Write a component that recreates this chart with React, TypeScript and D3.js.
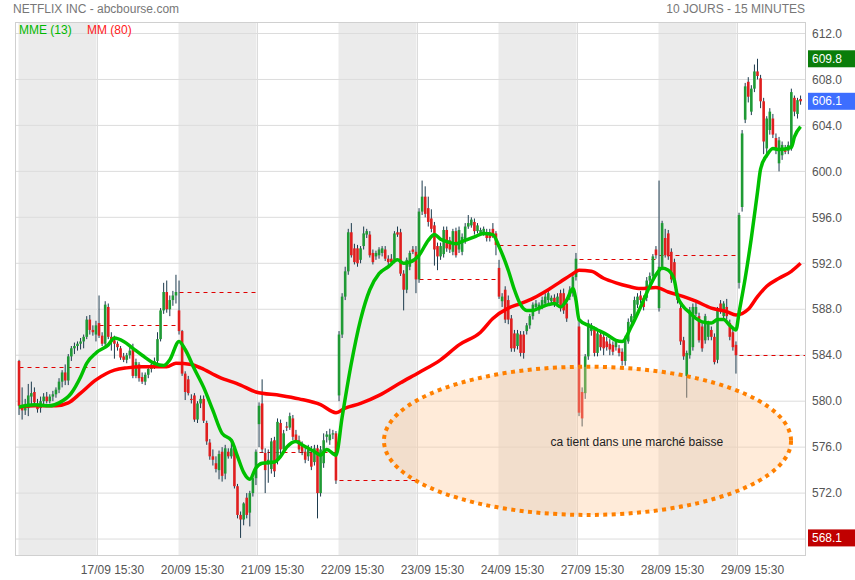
import React from "react";
import * as d3 from "d3";

const W = 855;
const H = 580;

const titleText = "NETFLIX INC - abcbourse.com";
const periodText = "10 JOURS - 15 MINUTES";
const legendEma = "MME (13)";
const legendSma = "MM (80)";
const dateLabels = ["17/09 15:30", "20/09 15:30", "21/09 15:30", "22/09 15:30", "23/09 15:30", "24/09 15:30", "27/09 15:30", "28/09 15:30", "29/09 15:30"];
const yTicks = [572, 576, 580, 584, 588, 592, 596, 600, 604, 608, 612];
const gridValues = [568, 572, 576, 580, 584, 588, 592, 596, 600, 604, 608, 612];
const barsPerDay = 26;
const closeBeforeFirstDay = 583.0;
const highValue = 609.8;
const lastValue = 606.1;
const lowValue = 568.1;

// [open, high, low, close]
const day0 = [
  [583.5, 583.6, 578.8, 579.6], [579.6, 581.2, 578.4, 579.2], [579.2, 580.2, 578.8, 579.4], [579.4, 581.5, 578.7, 580.5],
  [580.4, 581.7, 579.7, 580.7], [580.8, 581.2, 579.7, 579.9], [579.8, 580.2, 579.0, 579.3], [579.4, 580.4, 579.0, 580.0],
  [580.0, 580.7, 579.5, 580.4], [580.4, 580.8, 579.8, 580.0], [580.0, 580.6, 579.8, 580.4], [580.4, 580.9, 580.0, 580.6],
  [580.6, 581.2, 580.3, 581.0], [581.0, 582.0, 580.7, 581.7], [581.7, 582.7, 581.2, 582.5], [582.5, 583.2, 581.4, 581.8],
  [581.8, 584.1, 581.4, 583.9], [583.9, 584.8, 583.5, 584.6], [584.6, 585.1, 584.1, 584.8], [584.8, 585.2, 584.4, 585.0],
  [585.0, 585.5, 584.5, 585.2], [585.2, 585.8, 584.6, 585.6], [585.6, 587.4, 585.4, 587.1], [587.1, 587.5, 585.8, 586.2],
  [586.2, 586.6, 585.7, 586.0], [585.8, 587.0, 585.2, 586.6],
];
const day1 = [
  [586.8, 589.2, 585.5, 585.7], [585.7, 586.0, 584.8, 585.0], [585.0, 588.7, 584.8, 588.4], [588.2, 588.5, 585.4, 585.6],
  [585.6, 586.0, 584.4, 585.3], [585.3, 585.7, 583.7, 585.0], [585.0, 585.2, 584.4, 584.7], [584.6, 584.8, 583.6, 583.8],
  [583.9, 584.2, 583.4, 583.6], [583.6, 584.2, 583.3, 584.0], [584.0, 584.7, 583.7, 584.4], [584.5, 585.0, 582.0, 582.2],
  [582.2, 583.7, 582.0, 583.4], [583.2, 583.4, 581.7, 582.0], [582.1, 582.5, 581.5, 581.7], [581.7, 582.5, 581.4, 582.3],
  [582.3, 583.0, 582.0, 582.8], [582.8, 583.4, 582.5, 583.2], [583.2, 583.8, 582.8, 583.5], [583.5, 586.0, 583.2, 585.4],
  [585.4, 588.1, 585.2, 587.9], [587.9, 590.3, 587.6, 589.5], [589.5, 590.5, 587.7, 588.0], [588.0, 589.2, 587.4, 588.8],
  [588.8, 589.6, 588.3, 589.2], [589.2, 591.0, 588.5, 589.5],
];
const day2 = [
  [587.9, 590.5, 585.8, 586.1], [586.1, 586.2, 582.2, 582.4], [582.4, 582.6, 580.1, 580.8], [581.9, 582.2, 580.5, 580.7],
  [580.2, 580.6, 579.8, 580.1], [580.5, 580.7, 578.2, 578.4], [578.4, 580.0, 578.1, 579.8], [579.8, 580.5, 579.4, 580.2],
  [580.2, 580.5, 578.1, 578.3], [578.1, 578.3, 576.2, 576.5], [576.4, 576.7, 574.9, 575.2], [575.2, 575.8, 574.4, 574.9],
  [574.6, 575.2, 573.8, 574.1], [574.0, 575.7, 573.2, 575.4], [575.6, 576.0, 573.0, 573.5], [573.7, 576.2, 573.2, 575.9],
  [575.6, 575.9, 575.0, 575.2], [575.2, 576.5, 575.0, 575.9], [575.9, 576.2, 572.4, 572.6], [572.6, 572.8, 569.8, 570.1],
  [570.1, 570.4, 568.1, 569.7], [569.7, 571.2, 569.2, 571.1], [571.6, 572.0, 569.8, 570.1], [570.3, 572.2, 569.1, 572.0],
  [572.0, 573.7, 571.7, 573.3], [573.3, 575.8, 572.7, 575.6],
];
const day3 = [
  [578.0, 579.9, 576.0, 579.6], [579.8, 581.9, 575.5, 575.8], [575.5, 575.9, 572.0, 574.0], [574.5, 575.8, 572.9, 574.9],
  [574.1, 576.8, 573.7, 576.5], [576.6, 576.9, 573.4, 573.9], [574.9, 578.5, 574.5, 578.2], [578.1, 578.4, 575.4, 575.8],
  [575.8, 577.5, 575.5, 577.2], [577.8, 578.2, 577.4, 577.7], [577.7, 579.0, 577.5, 578.7], [578.5, 578.8, 576.6, 576.9],
  [577.1, 577.5, 576.4, 576.6], [576.6, 577.0, 575.5, 575.8], [576.1, 576.5, 575.3, 575.6], [575.6, 576.0, 574.6, 574.9],
  [575.2, 576.2, 574.8, 575.8], [575.5, 576.1, 574.0, 574.3], [574.7, 576.2, 574.4, 575.9], [575.9, 576.2, 569.8, 572.0],
  [572.0, 576.1, 571.7, 575.8], [574.6, 577.2, 574.2, 576.6], [576.9, 577.4, 576.4, 577.1], [576.6, 577.6, 576.2, 577.1],
  [577.1, 577.5, 576.7, 577.2], [577.2, 577.4, 572.8, 573.1],
];
const day4 = [
  [580.5, 586.1, 580.0, 585.8], [585.8, 589.4, 585.5, 589.1], [589.1, 591.7, 588.8, 591.3], [591.3, 595.0, 591.0, 594.7],
  [594.7, 595.5, 592.5, 592.7], [593.3, 593.7, 591.9, 592.1], [593.3, 593.6, 591.7, 592.0], [592.3, 593.5, 592.0, 593.3],
  [593.5, 595.2, 593.2, 594.6], [594.5, 595.0, 594.2, 594.8], [594.5, 594.8, 592.5, 592.7], [592.9, 593.2, 591.9, 592.1],
  [592.6, 593.1, 592.3, 592.9], [592.7, 593.4, 592.4, 593.2], [592.9, 593.5, 592.6, 593.3], [593.2, 593.5, 592.2, 592.4],
  [592.4, 592.7, 591.8, 592.1], [592.4, 592.8, 591.8, 592.1], [592.3, 594.8, 592.0, 594.6], [594.7, 595.2, 594.3, 594.5],
  [594.7, 595.0, 590.9, 591.1], [591.1, 591.4, 587.9, 589.7], [589.7, 592.5, 589.4, 592.3], [591.7, 593.1, 591.4, 592.9],
  [593.2, 593.5, 592.8, 593.0], [593.0, 593.5, 589.4, 590.6],
];
const day5 = [
  [590.6, 596.8, 590.3, 596.5], [596.5, 599.2, 596.2, 597.8], [597.8, 598.7, 596.0, 596.3], [596.8, 597.8, 595.2, 595.6],
  [595.9, 596.7, 594.7, 595.0], [595.3, 595.6, 591.8, 593.2], [593.5, 593.8, 591.4, 592.6], [592.6, 593.8, 592.3, 593.5],
  [592.8, 595.2, 592.5, 594.9], [594.9, 595.2, 593.0, 593.3], [594.0, 594.3, 592.9, 593.2], [593.0, 595.0, 592.7, 594.8],
  [594.8, 595.1, 592.5, 592.7], [593.2, 595.2, 592.9, 594.9], [593.0, 594.6, 592.7, 594.3], [594.0, 595.5, 593.7, 595.2],
  [595.2, 596.2, 595.0, 595.5], [595.3, 596.0, 595.1, 595.8], [595.6, 595.9, 594.5, 594.8], [594.8, 595.5, 594.6, 595.3],
  [594.6, 595.1, 594.4, 594.9], [594.6, 595.2, 594.4, 595.0], [594.7, 595.0, 593.9, 594.2], [594.7, 595.0, 593.9, 594.2],
  [595.0, 595.5, 594.2, 594.3], [594.6, 594.8, 592.7, 593.6],
];
const day6 = [
  [591.6, 592.3, 588.9, 589.1], [588.7, 589.4, 588.2, 589.1], [589.7, 590.0, 586.8, 587.1], [588.8, 589.2, 586.7, 587.1],
  [587.2, 587.5, 584.3, 584.6], [585.9, 586.2, 584.3, 584.6], [584.8, 586.2, 584.5, 585.9], [585.8, 586.1, 583.9, 584.2],
  [585.8, 586.1, 583.7, 584.2], [586.1, 586.8, 585.8, 586.6], [586.6, 587.6, 586.3, 587.4], [587.4, 588.6, 587.1, 588.4],
  [588.2, 588.8, 588.0, 588.5], [587.9, 588.6, 587.6, 588.4], [588.2, 589.1, 588.0, 588.8], [588.5, 589.4, 588.3, 589.1],
  [588.8, 589.7, 588.5, 589.4], [588.7, 589.2, 588.4, 589.0], [589.0, 589.3, 588.2, 588.4], [588.5, 589.4, 588.2, 589.1],
  [589.4, 589.7, 587.8, 588.1], [589.4, 589.8, 587.6, 587.9], [588.5, 588.8, 586.9, 587.2], [589.1, 590.0, 588.8, 589.7],
  [589.4, 591.1, 589.1, 590.8], [590.8, 592.9, 590.5, 592.4],
];
const day7 = [
  [586.5, 587.2, 578.7, 579.0], [580.8, 581.2, 577.8, 578.5], [580.7, 584.1, 580.2, 583.9], [583.9, 587.1, 583.6, 586.8],
  [586.1, 586.8, 585.7, 586.6], [586.2, 586.5, 583.9, 584.2], [584.2, 586.2, 583.9, 585.9], [585.8, 586.1, 584.4, 584.7],
  [585.6, 585.9, 584.0, 584.6], [585.2, 585.6, 584.4, 584.7], [585.0, 585.4, 584.0, 584.5], [584.9, 585.2, 584.0, 584.3],
  [584.7, 585.4, 584.4, 585.2], [584.6, 584.9, 583.9, 584.2], [584.3, 584.6, 583.1, 583.5], [583.5, 585.7, 583.1, 585.3],
  [585.2, 587.2, 585.0, 586.9], [586.9, 587.6, 586.6, 587.4], [587.2, 589.1, 586.8, 588.8], [588.4, 589.4, 588.1, 589.1],
  [589.2, 589.6, 588.5, 588.8], [589.0, 589.2, 587.9, 588.2], [589.0, 590.8, 588.7, 590.5], [590.5, 591.2, 590.1, 590.9],
  [590.9, 592.8, 590.6, 592.6], [593.2, 593.5, 592.4, 592.7],
];
const day8 = [
  [588.1, 599.2, 587.8, 591.7], [591.7, 595.7, 591.4, 595.5], [594.2, 595.0, 592.5, 592.7], [594.6, 594.9, 592.3, 592.6],
  [593.0, 593.3, 590.3, 590.6], [592.1, 592.4, 590.3, 590.6], [589.4, 589.7, 588.5, 588.8], [588.1, 588.4, 584.9, 585.2],
  [585.3, 585.6, 583.6, 583.9], [582.2, 584.4, 580.3, 584.2], [584.0, 588.2, 583.7, 587.9], [584.7, 588.5, 584.4, 588.2],
  [587.6, 588.6, 587.4, 588.2], [587.4, 587.7, 585.1, 585.3], [586.5, 586.8, 584.3, 584.6], [585.3, 587.6, 585.0, 587.4],
  [585.6, 587.0, 585.3, 586.8], [586.2, 586.5, 585.3, 585.6], [585.6, 585.9, 583.2, 583.4], [583.6, 588.2, 583.3, 587.9],
  [588.5, 588.8, 587.6, 587.9], [587.4, 588.7, 587.1, 588.5], [588.2, 588.9, 587.1, 587.4], [586.8, 587.1, 585.3, 585.6],
  [586.0, 586.3, 584.4, 584.7], [584.9, 585.2, 582.4, 584.0],
];
const day9 = [
  [590.3, 596.4, 589.8, 596.2], [596.9, 603.6, 596.5, 603.3], [604.5, 607.7, 604.2, 607.4], [607.8, 608.2, 606.0, 606.5],
  [605.2, 607.5, 604.9, 607.2], [607.2, 609.3, 606.9, 608.7], [608.7, 609.8, 608.0, 608.3], [608.1, 608.4, 605.5, 606.1],
  [606.1, 606.4, 601.5, 602.6], [602.0, 604.8, 601.2, 604.6], [603.6, 605.5, 603.2, 605.2], [604.6, 605.0, 602.9, 603.2],
  [602.9, 603.3, 601.5, 601.9], [600.7, 603.0, 600.0, 602.7], [601.4, 602.6, 601.0, 602.3], [602.0, 602.3, 601.5, 601.7],
  [601.8, 602.6, 601.5, 602.3], [602.0, 607.2, 601.8, 606.9], [606.4, 606.6, 604.8, 605.2], [605.0, 606.4, 604.6, 606.2],
  [606.3, 606.6, 605.8, 606.1],
];
const days = [day0, day1, day2, day3, day4, day5, day6, day7, day8, day9];

// [bar index, value]
const emaPoints = [
  [0, 579.5], [5, 579.7], [10, 579.6], [13, 579.85], [17, 580.7], [20, 582.1], [22, 583.3], [25, 584.2], [29, 584.9],
  [31, 585.5], [34, 585.2], [37, 584.6], [40, 584.0], [44, 583.3], [47, 583.1], [49, 583.6], [52, 585.2], [54, 584.5],
  [57, 582.8], [60, 581.2], [63, 579.2], [66, 577.2], [69, 576.6], [71, 575.2], [73, 573.8], [75, 573.2], [77, 574.2],
  [79, 574.6], [83, 574.7], [85, 575.2], [87, 576.0], [90, 576.5], [92, 576.2], [96, 575.6], [98, 575.3], [100, 575.8],
  [103, 575.3], [105, 578.6], [108, 583.3], [111, 587.1], [114, 589.7], [117, 591.1], [120, 591.7], [123, 592.3],
  [125, 592.0], [127, 592.1], [130, 592.7], [133, 594.0], [135, 594.5], [137, 594.1], [139, 593.9], [142, 593.7],
  [144, 593.9], [148, 594.3], [151, 594.6], [154, 594.5], [156, 593.45], [159, 591.4], [161, 589.7], [163, 588.4],
  [165, 587.9], [167, 587.9], [169, 588.1], [172, 588.4], [174, 588.5], [176, 588.2], [178, 588.8], [180, 589.8],
  [181, 588.8], [182, 587.1], [185, 586.6], [188, 586.2], [191, 585.8], [194, 585.3], [196, 585.2], [199, 586.5],
  [202, 588.2], [205, 590.0], [207, 591.0], [209, 591.6], [211, 591.4], [213, 590.5], [214, 589.1], [216, 588.2],
  [218, 587.7], [220, 587.2], [222, 586.9], [225, 586.8], [227, 587.1], [229, 587.1], [231, 586.6], [233, 586.2],
  [234, 587.7], [236, 590.7], [238, 594.2], [240, 598.2], [241, 600.2], [243, 601.4], [245, 602.0], [247, 601.9],
  [251, 602.1], [252, 603.0], [254, 603.9],
];
const smaPoints = [
  [0, 579.5], [5, 579.6], [12, 579.6], [16, 579.85], [20, 580.7], [25, 581.85], [31, 582.7], [35, 582.9], [40, 583.0],
  [48, 583.0], [51, 583.3], [56, 583.2], [59, 582.9], [65, 582.1], [72, 581.4], [77, 580.8], [85, 580.5], [91, 580.2],
  [98, 579.7], [103, 579.0], [106, 579.4], [111, 579.8], [117, 580.5], [124, 581.6], [130, 582.5], [137, 583.6],
  [143, 584.9], [150, 586.0], [154, 587.2], [159, 588.1], [163, 588.5], [167, 588.95], [172, 589.7], [176, 590.4],
  [180, 591.1], [182, 591.4], [186, 591.3], [190, 590.7], [194, 590.3], [198, 590.0], [202, 589.8], [207, 589.9],
  [211, 589.5], [216, 589.1], [220, 588.7], [225, 588.1], [230, 587.8], [233, 587.5], [237, 588.0], [240, 589.1],
  [243, 590.0], [247, 590.7], [251, 591.3], [254, 592.0],
];

const noteText = "ca tient dans une marché baisse";
const noteBarRange = [119.1, 251.4];
const notePriceRange = [570.1, 583.0];
const noteTextAt = [201.3, 576.5];

const FONT = "'Liberation Sans', Arial, Helvetica, sans-serif";

export default function App() {
  const plotL = 15, plotR = 806, plotT = 22, plotB = 556;
  const x = d3.scaleLinear().domain([0, 260]).range([17.5, 817.5]);
  const y = d3.scaleLinear().domain([568, 612]).range([539.06, 33.5]);
  const bw = 2.6;

  const candles = days.flatMap((day, d) =>
    day.map((c, k) => ({ i: d * barsPerDay + k, o: c[0], h: c[1], l: c[2], c: c[3] }))
  );
  const prevCloses = days.map((_, d) =>
    d === 0 ? closeBeforeFirstDay : days[d - 1][days[d - 1].length - 1][3]
  );

  const line = d3
    .line<number[]>()
    .x((p) => x(p[0] + 0.5))
    .y((p) => y(p[1]))
    .curve(d3.curveMonotoneX);

  const ex0 = x(noteBarRange[0]), ex1 = x(noteBarRange[1]);
  const ey0 = y(notePriceRange[0]), ey1 = y(notePriceRange[1]);

  const valueBox = (v: number, color: string) => (
    <g key={"vb" + v}>
      <rect x={808} y={y(v) - 8.5} width={47} height={17} fill={color} />
      <text x={812} y={y(v)} dy="0.35em" fill="#fff" fontSize={12} fontFamily={FONT}>
        {v.toFixed(1)}
      </text>
    </g>
  );

  return (
    <svg
      width={W}
      height={H}
      style={{ position: "absolute", left: 0, top: 0, background: "#fff" }}
    >
      <defs>
        <clipPath id="plot">
          <rect x={plotL} y={plotT} width={plotR - plotL} height={plotB - plotT} />
        </clipPath>
      </defs>
      <rect x={0} y={0} width={W} height={H} fill="#fff" />
      <g clipPath="url(#plot)">
        {days.map((_, d) =>
          d % 2 === 0 ? (
            <rect
              key={"band" + d}
              x={x(d * barsPerDay) + 1}
              y={plotT}
              width={x((d + 1) * barsPerDay) - x(d * barsPerDay) - 2}
              height={plotB - plotT}
              fill="#ebebeb"
            />
          ) : (
            <line
              key={"vl" + d}
              x1={x(d * barsPerDay)}
              x2={x(d * barsPerDay)}
              y1={plotT}
              y2={plotB}
              stroke="#dcdcdc"
            />
          )
        )}
        {gridValues.map((v) => (
          <line key={"g" + v} x1={plotL} x2={plotR} y1={y(v)} y2={y(v)} stroke="#dcdcdc" />
        ))}
        {prevCloses.map((v, d) => (
          <line
            key={"pc" + d}
            x1={x(d * barsPerDay) + 2}
            x2={x((d + 1) * barsPerDay)}
            y1={Math.round(y(v)) + 0.5}
            y2={Math.round(y(v)) + 0.5}
            stroke="#e00000"
            strokeWidth={1}
            strokeDasharray="4,4"
          />
        ))}
        {candles.map((c) => {
          const cx = x(c.i + 0.5);
          const up = c.c >= c.o;
          const top = y(Math.max(c.o, c.c));
          const hgt = Math.max(1, Math.abs(y(c.o) - y(c.c)));
          return (
            <g key={"c" + c.i}>
              <line x1={cx} x2={cx} y1={y(c.h)} y2={y(c.l)} stroke="#1d3b4d" strokeWidth={1} />
              <rect x={cx - bw / 2} y={top} width={bw} height={hgt} fill={up ? "#1f9a35" : "#e01e1e"} />
            </g>
          );
        })}
        <path d={line(smaPoints) || ""} fill="none" stroke="#ff0000" strokeWidth={3.5} strokeLinejoin="round" />
        <path d={line(emaPoints) || ""} fill="none" stroke="#00c000" strokeWidth={3.5} strokeLinejoin="round" />
        <ellipse
          cx={(ex0 + ex1) / 2}
          cy={(ey0 + ey1) / 2}
          rx={(ex1 - ex0) / 2}
          ry={(ey0 - ey1) / 2}
          fill="rgba(255,200,150,0.36)"
          stroke="#ff8000"
          strokeWidth={4}
          strokeDasharray="4 4.4"
        />
        <text
          x={x(noteTextAt[0])}
          y={y(noteTextAt[1])}
          dy="0.35em"
          textAnchor="middle"
          fontSize={12}
          fontFamily={FONT}
          fill="#222"
        >
          {noteText}
        </text>
      </g>
      <rect x={plotL + 0.5} y={plotT + 0.5} width={plotR - plotL - 1} height={plotB - plotT - 1} fill="none" stroke="#d0d0d0" />

      <text x={13} y={13} fontSize={12} fontFamily={FONT} fill="#777">{titleText}</text>
      <text x={805} y={13} fontSize={12} fontFamily={FONT} fill="#777" textAnchor="end">{periodText}</text>
      <text x={19} y={34} fontSize={12} fontFamily={FONT} fill="#00b800">{legendEma}</text>
      <text x={87} y={34} fontSize={12} fontFamily={FONT} fill="#ff2020">{legendSma}</text>

      {yTicks.map((v) => (
        <text key={"yt" + v} x={812} y={y(v)} dy="0.35em" fontSize={12} fontFamily={FONT} fill="#555">
          {v.toFixed(1)}
        </text>
      ))}
      {dateLabels.map((t, k) => (
        <text
          key={"xt" + k}
          x={x((k + 1) * barsPerDay) + 15}
          y={574}
          textAnchor="middle"
          fontSize={12}
          fontFamily={FONT}
          fill="#555"
        >
          {t}
        </text>
      ))}
      {valueBox(highValue, "#0a7d0a")}
      {valueBox(lastValue, "#3d6eff")}
      {valueBox(lowValue, "#c00000")}
    </svg>
  );
}
